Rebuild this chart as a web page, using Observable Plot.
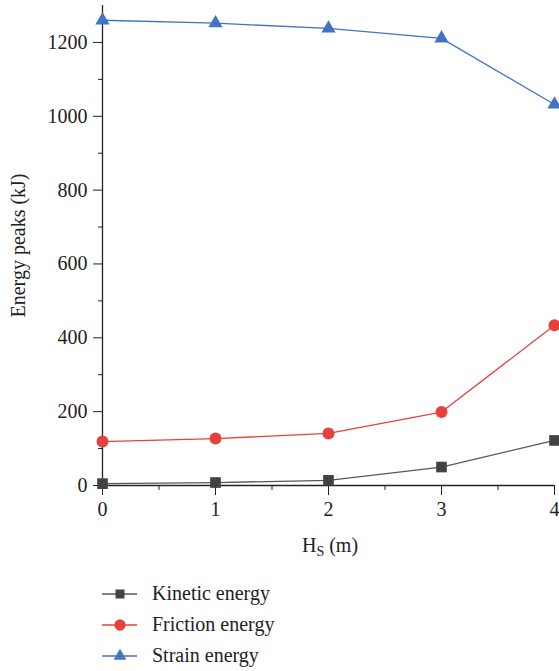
<!DOCTYPE html>
<html>
<head>
<meta charset="utf-8">
<script src="https://cdn.jsdelivr.net/npm/d3@7"></script>
<script src="https://cdn.jsdelivr.net/npm/@observablehq/plot@0.6"></script>
<style>
  body { margin: 0; background: #fff; font-family: "Liberation Serif", serif; }
  #chart { width: 559px; }
  .legend { margin-left: 102px; margin-top: 8px; }
  .legend .row { display: flex; align-items: center; height: 31px; font-size: 20px; color: #222; }
  .legend svg { margin-right: 15px; overflow: visible; }
</style>
</head>
<body>
<div id="chart"></div>
<script>
// Snow depth H_S (m) and energy peaks (kJ)
const depth = [0, 1, 2, 3, 4];
const kinetic = [5, 8, 14, 50, 122];
const friction = [119, 127, 141, 199, 434];
const strain = [1260, 1252, 1238, 1211, 1032];

const seriesNames = ["Kinetic energy", "Friction energy", "Strain energy"];
const seriesValues = [kinetic, friction, strain];
const lineColors = ["#5a5657", "#e8403c", "#4472c4"];
const markColors = ["#454041", "#e8403c", "#4472c4"];
const symbols = ["square", "circle", "triangle"];
const markR = [6, 6, 5.3];

const rows = seriesNames.flatMap((name, i) =>
  depth.map((d, j) => ({ series: name, hs: d, value: seriesValues[i][j], idx: i }))
);

const font = "'Liberation Serif', serif";
const fs = 20;

const chart = Plot.plot({
  width: 559,
  height: 570,
  marginLeft: 102,
  marginRight: 5,
  marginTop: 5,
  marginBottom: 85,
  style: { fontFamily: font, fontSize: fs + "px", color: "#222", background: "#fff", overflow: "visible" },
  x: { domain: [0, 4] },
  y: { domain: [0, 1300] },
  marks: [
    // minor ticks
    Plot.axisY(d3.range(100, 1300, 200), { tickSize: 4, text: null, label: null, stroke: "#222" }),
    Plot.axisX(d3.range(0.5, 4, 1), { tickSize: 5, text: null, label: null, stroke: "#222" }),
    // major ticks
    Plot.axisY(d3.range(0, 1300, 200), {
      tickSize: 9, tickPadding: 6, stroke: "#222", fontSize: fs, tickFormat: "d",
      label: "Energy peaks (kJ)", labelAnchor: "center", labelArrow: "none", labelOffset: 92
    }),
    Plot.axisX(depth, { tickSize: 10, tickPadding: 6, stroke: "#222", fontSize: fs, tickFormat: "d", label: null }),
    Plot.ruleX([0], { stroke: "#222", strokeWidth: 1.3 }),
    Plot.ruleY([0], { stroke: "#222", strokeWidth: 1.3 }),
    ...seriesNames.map((name, i) =>
      Plot.line(rows.filter(r => r.idx === i), { x: "hs", y: "value", stroke: lineColors[i], strokeWidth: 1.3 })
    ),
    ...seriesNames.map((name, i) =>
      Plot.dot(rows.filter(r => r.idx === i), {
        x: "hs", y: "value", symbol: () => symbols[i], fill: markColors[i], r: markR[i]
      })
    )
  ]
});

// x-axis label with subscript
const svg = d3.select(chart);
const xl = svg.append("text")
  .attr("x", 330).attr("y", 552)
  .attr("text-anchor", "middle")
  .attr("font-family", font).attr("font-size", fs).attr("fill", "#222");
xl.append("tspan").text("H");
xl.append("tspan").attr("font-size", 14).attr("dy", 4).text("S");
xl.append("tspan").attr("dy", -4).text(" (m)");

document.getElementById("chart").appendChild(chart);

// legend below the chart
const legend = d3.select("#chart").append("div").attr("class", "legend");
const legendSize = [81, 100, 70];
seriesNames.forEach((name, i) => {
  const row = legend.append("div").attr("class", "row");
  const s = row.append("svg").attr("width", 35).attr("height", 14);
  s.append("line").attr("x1", 0).attr("x2", 35).attr("y1", 7).attr("y2", 7)
    .attr("stroke", lineColors[i]).attr("stroke-width", 1.3);
  const sym = [d3.symbolSquare, d3.symbolCircle, d3.symbolTriangle][i];
  s.append("path").attr("transform", "translate(18,7)")
    .attr("d", d3.symbol(sym, legendSize[i])())
    .attr("fill", markColors[i]);
  row.append("span").text(name);
});
</script>
</body>
</html>
